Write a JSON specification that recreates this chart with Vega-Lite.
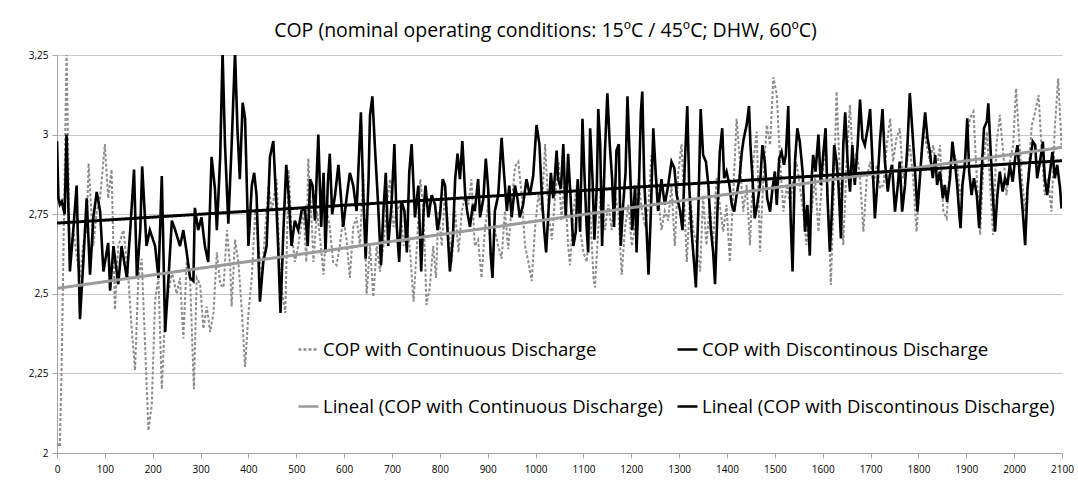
{
  "$schema": "https://vega.github.io/schema/vega-lite/v6.json",
  "width": 1005,
  "height": 398,
  "autosize": {"type": "none"},
  "padding": {"left": 57, "top": 55, "right": 16, "bottom": 36},
  "background": "white",
  "title": {
    "text": "COP (nominal operating conditions: 15ºC / 45ºC; DHW, 60ºC)",
    "font": "Open Sans",
    "fontSize": 19.5,
    "fontWeight": "normal",
    "color": "#000000",
    "anchor": "middle",
    "dx": -14,
    "offset": 9
  },
  "config": {
    "view": {"stroke": null},
    "axis": {"labelFont": "Open Sans", "labelFontSize": 10, "labelColor": "#000000", "domainColor": "#a6a6a6", "tickColor": "#a6a6a6", "tickSize": 5, "title": null}
  },
  "datasets": {
    "cont": [
      {"x":0,"y":2.03},{"x":6,"y":2.02},{"x":10,"y":2.3},{"x":20,"y":3.26},{"x":27,"y":2.6},{"x":34,"y":2.7},{"x":41,"y":2.62},{"x":48,"y":2.55},{"x":55,"y":2.66},{"x":62,"y":2.7},{"x":66,"y":2.91},{"x":76,"y":2.65},{"x":83,"y":2.76},{"x":90,"y":2.8},{"x":100,"y":2.97},{"x":107,"y":2.8},{"x":114,"y":2.89},{"x":121,"y":2.45},{"x":128,"y":2.65},{"x":139,"y":2.7},{"x":149,"y":2.55},{"x":156,"y":2.39},{"x":163,"y":2.26},{"x":170,"y":2.55},{"x":177,"y":2.61},{"x":184,"y":2.34},{"x":191,"y":2.07},{"x":198,"y":2.15},{"x":205,"y":2.48},{"x":212,"y":2.55},{"x":219,"y":2.2},{"x":226,"y":2.44},{"x":240,"y":2.57},{"x":250,"y":2.5},
      {"x":257,"y":2.55},{"x":264,"y":2.36},{"x":271,"y":2.6},{"x":278,"y":2.55},{"x":286,"y":2.2},{"x":292,"y":2.55},{"x":299,"y":2.53},{"x":306,"y":2.39},{"x":313,"y":2.46},{"x":320,"y":2.38},{"x":327,"y":2.44},{"x":334,"y":2.63},{"x":341,"y":2.53},{"x":348,"y":2.52},{"x":355,"y":2.7},{"x":362,"y":2.58},{"x":365,"y":2.46},{"x":372,"y":2.67},{"x":379,"y":2.6},{"x":386,"y":2.45},{"x":393,"y":2.27},{"x":400,"y":2.44},{"x":407,"y":2.55},{"x":414,"y":2.76},{"x":421,"y":2.65},{"x":428,"y":2.55},{"x":435,"y":2.7},{"x":442,"y":2.84},{"x":449,"y":2.76},{"x":459,"y":2.86},{"x":466,"y":2.55},{"x":477,"y":2.44},{"x":484,"y":2.89},{"x":490,"y":2.7},{"x":497,"y":2.6},{"x":504,"y":2.65},{"x":515,"y":2.76},
      {"x":521,"y":2.6},{"x":525,"y":2.925},{"x":531,"y":2.76},{"x":536,"y":2.6},{"x":543,"y":2.76},{"x":550,"y":2.67},{"x":557,"y":2.56},{"x":564,"y":2.76},{"x":570,"y":2.71},{"x":577,"y":2.6},{"x":584,"y":2.59},{"x":591,"y":2.65},{"x":598,"y":2.74},{"x":605,"y":2.67},{"x":612,"y":2.55},{"x":619,"y":2.71},{"x":626,"y":2.74},{"x":633,"y":2.65},{"x":640,"y":2.88},{"x":647,"y":2.5},{"x":654,"y":2.65},{"x":661,"y":2.49},{"x":668,"y":2.65},{"x":675,"y":2.57},{"x":682,"y":2.65},{"x":689,"y":2.78},{"x":696,"y":2.86},{"x":703,"y":2.71},{"x":710,"y":2.76},{"x":717,"y":2.78},{"x":724,"y":2.65},{"x":731,"y":2.72},{"x":738,"y":2.63},{"x":745,"y":2.475},{"x":752,"y":2.65},{"x":759,"y":2.86},{"x":766,"y":2.76},{"x":772,"y":2.465},{"x":779,"y":2.52},{"x":786,"y":2.65},
      {"x":792,"y":2.55},{"x":797,"y":2.76},{"x":804,"y":2.65},{"x":811,"y":2.83},{"x":818,"y":2.7},{"x":825,"y":2.6},{"x":832,"y":2.76},{"x":839,"y":2.63},{"x":846,"y":2.76},{"x":853,"y":2.81},{"x":860,"y":2.78},{"x":866,"y":2.86},{"x":873,"y":2.65},{"x":880,"y":2.67},{"x":887,"y":2.55},{"x":894,"y":2.7},{"x":901,"y":2.78},{"x":908,"y":2.57},{"x":915,"y":2.7},{"x":922,"y":2.65},{"x":929,"y":2.61},{"x":936,"y":2.76},{"x":943,"y":2.64},{"x":950,"y":2.78},{"x":957,"y":2.9},{"x":964,"y":2.915},{"x":971,"y":2.81},{"x":978,"y":2.65},{"x":985,"y":2.6},{"x":992,"y":2.54},{"x":999,"y":2.71},{"x":1006,"y":2.81},{"x":1013,"y":2.76},{"x":1020,"y":2.97},{"x":1027,"y":2.76},{"x":1034,"y":2.67},{"x":1041,"y":2.81},{"x":1048,"y":2.915},
      {"x":1054,"y":2.73},{"x":1061,"y":2.86},{"x":1068,"y":2.65},{"x":1072,"y":2.59},{"x":1079,"y":2.76},{"x":1086,"y":2.84},{"x":1093,"y":2.7},{"x":1100,"y":2.63},{"x":1107,"y":2.6},{"x":1114,"y":2.76},{"x":1121,"y":2.55},{"x":1124,"y":2.52},{"x":1131,"y":2.7},{"x":1138,"y":2.86},{"x":1145,"y":2.7},{"x":1152,"y":2.78},{"x":1159,"y":2.7},{"x":1166,"y":2.81},{"x":1173,"y":2.76},{"x":1180,"y":2.56},{"x":1187,"y":2.71},{"x":1194,"y":2.78},{"x":1201,"y":2.65},{"x":1208,"y":2.71},{"x":1215,"y":2.86},{"x":1222,"y":2.76},{"x":1229,"y":2.71},{"x":1236,"y":2.78},{"x":1242,"y":2.935},{"x":1249,"y":2.905},{"x":1256,"y":2.81},{"x":1263,"y":2.7},{"x":1270,"y":2.76},{"x":1277,"y":2.73},{"x":1284,"y":2.84},{"x":1291,"y":2.65},{"x":1298,"y":2.88},{"x":1305,"y":2.97},
      {"x":1309,"y":2.84},{"x":1316,"y":2.6},{"x":1323,"y":2.81},{"x":1330,"y":2.695},{"x":1337,"y":2.653},{"x":1344,"y":2.57},{"x":1350,"y":2.81},{"x":1357,"y":2.653},{"x":1364,"y":2.779},{"x":1371,"y":2.653},{"x":1378,"y":2.863},{"x":1385,"y":2.779},{"x":1392,"y":2.695},{"x":1399,"y":2.779},{"x":1406,"y":2.6},{"x":1413,"y":2.81},{"x":1420,"y":3.05},{"x":1427,"y":2.915},{"x":1434,"y":2.758},{"x":1441,"y":2.842},{"x":1448,"y":2.653},{"x":1455,"y":2.915},{"x":1462,"y":3.009},{"x":1469,"y":2.632},{"x":1476,"y":2.863},{"x":1483,"y":3.03},{"x":1490,"y":2.967},{"x":1497,"y":3.18},{"x":1504,"y":3.125},{"x":1511,"y":2.915},{"x":1518,"y":2.758},{"x":1525,"y":2.842},{"x":1532,"y":2.779},{"x":1539,"y":2.863},{"x":1545,"y":2.915},{"x":1552,"y":2.842},{"x":1559,"y":2.758},{"x":1566,"y":2.653},
      {"x":1570,"y":2.75},{"x":1577,"y":2.758},{"x":1584,"y":2.863},{"x":1591,"y":2.695},{"x":1598,"y":2.842},{"x":1605,"y":2.967},{"x":1612,"y":2.758},{"x":1617,"y":2.528},{"x":1624,"y":2.863},{"x":1629,"y":3.135},{"x":1636,"y":2.863},{"x":1643,"y":2.653},{"x":1650,"y":2.915},{"x":1657,"y":3.093},{"x":1664,"y":2.884},{"x":1671,"y":2.946},{"x":1678,"y":2.863},{"x":1685,"y":2.695},{"x":1692,"y":2.863},{"x":1699,"y":2.915},{"x":1706,"y":2.842},{"x":1713,"y":2.905},{"x":1720,"y":2.831},{"x":1727,"y":2.842},{"x":1734,"y":2.967},{"x":1741,"y":3.051},{"x":1747,"y":2.915},{"x":1754,"y":2.988},{"x":1761,"y":3.02},{"x":1768,"y":2.863},{"x":1775,"y":2.905},{"x":1782,"y":2.967},{"x":1789,"y":2.863},{"x":1796,"y":2.695},{"x":1803,"y":2.863},{"x":1810,"y":3.02},{"x":1817,"y":2.967},{"x":1824,"y":2.915},{"x":1831,"y":2.967},
      {"x":1838,"y":2.884},{"x":1845,"y":2.967},{"x":1852,"y":2.758},{"x":1859,"y":2.737},{"x":1866,"y":2.915},{"x":1873,"y":2.946},{"x":1880,"y":2.915},{"x":1887,"y":2.81},{"x":1894,"y":2.863},{"x":1901,"y":2.988},{"x":1908,"y":3.051},{"x":1915,"y":3.072},{"x":1922,"y":2.863},{"x":1929,"y":2.685},{"x":1936,"y":2.915},{"x":1943,"y":3.009},{"x":1949,"y":2.863},{"x":1956,"y":2.685},{"x":1963,"y":2.967},{"x":1970,"y":3.062},{"x":1977,"y":2.946},{"x":1984,"y":2.81},{"x":1991,"y":2.915},{"x":1998,"y":2.967},{"x":2004,"y":3.145},{"x":2009,"y":3.02},{"x":2016,"y":2.863},{"x":2023,"y":2.758},{"x":2030,"y":2.884},{"x":2037,"y":3.03},{"x":2044,"y":3.072},{"x":2051,"y":3.124},{"x":2057,"y":2.967},{"x":2064,"y":2.81},{"x":2071,"y":2.863},{"x":2078,"y":2.758},{"x":2085,"y":3.02},{"x":2092,"y":3.177},{"x":2099,"y":2.967}
    ],
    "disc": [
      {"x":0,"y":2.98},{"x":3,"y":2.8},{"x":6,"y":2.78},{"x":10,"y":2.79},{"x":16,"y":2.75},{"x":20,"y":3.0},{"x":27,"y":2.57},{"x":34,"y":2.7},{"x":41,"y":2.84},{"x":48,"y":2.42},{"x":55,"y":2.6},{"x":62,"y":2.8},{"x":69,"y":2.56},{"x":76,"y":2.74},{"x":83,"y":2.82},{"x":90,"y":2.76},{"x":97,"y":2.57},{"x":107,"y":2.66},{"x":111,"y":2.51},{"x":118,"y":2.65},{"x":128,"y":2.53},{"x":135,"y":2.65},{"x":146,"y":2.55},{"x":153,"y":2.7},{"x":161,"y":2.89},{"x":167,"y":2.55},{"x":174,"y":2.7},{"x":178,"y":2.9},{"x":187,"y":2.65},{"x":194,"y":2.7},{"x":205,"y":2.65},{"x":212,"y":2.55},{"x":219,"y":2.87},{"x":226,"y":2.38},{"x":233,"y":2.55},{"x":240,"y":2.73},{"x":247,"y":2.7},{"x":257,"y":2.65},
      {"x":264,"y":2.7},{"x":271,"y":2.63},{"x":278,"y":2.55},{"x":285,"y":2.54},{"x":288,"y":2.77},{"x":295,"y":2.7},{"x":302,"y":2.74},{"x":309,"y":2.65},{"x":316,"y":2.6},{"x":323,"y":2.93},{"x":330,"y":2.83},{"x":334,"y":2.7},{"x":341,"y":2.93},{"x":346,"y":3.26},{"x":351,"y":2.97},{"x":358,"y":2.72},{"x":365,"y":2.97},{"x":372,"y":3.26},{"x":377,"y":3.02},{"x":382,"y":2.86},{"x":388,"y":3.1},{"x":393,"y":3.05},{"x":400,"y":2.65},{"x":407,"y":2.84},{"x":412,"y":2.88},{"x":417,"y":2.81},{"x":424,"y":2.475},{"x":431,"y":2.6},{"x":438,"y":2.65},{"x":445,"y":2.93},{"x":452,"y":2.98},{"x":459,"y":2.76},{"x":462,"y":2.65},{"x":467,"y":2.44},{"x":473,"y":2.695},{"x":479,"y":2.905},{"x":484,"y":2.81},{"x":490,"y":2.65},{"x":497,"y":2.73},{"x":504,"y":2.7},{"x":511,"y":2.76},
      {"x":518,"y":2.77},{"x":524,"y":2.65},{"x":529,"y":2.86},{"x":534,"y":2.84},{"x":539,"y":2.73},{"x":546,"y":3.0},{"x":552,"y":2.71},{"x":557,"y":2.88},{"x":561,"y":2.63},{"x":566,"y":2.85},{"x":570,"y":2.94},{"x":575,"y":2.75},{"x":581,"y":2.81},{"x":588,"y":2.905},{"x":593,"y":2.81},{"x":598,"y":2.71},{"x":605,"y":2.8},{"x":612,"y":2.88},{"x":619,"y":2.84},{"x":626,"y":2.76},{"x":635,"y":3.07},{"x":640,"y":2.81},{"x":645,"y":2.61},{"x":651,"y":2.86},{"x":654,"y":3.06},{"x":659,"y":3.12},{"x":664,"y":2.97},{"x":671,"y":2.78},{"x":677,"y":2.59},{"x":682,"y":2.76},{"x":687,"y":2.88},{"x":692,"y":2.65},{"x":699,"y":2.78},{"x":705,"y":2.97},{"x":710,"y":2.71},{"x":715,"y":2.6},{"x":720,"y":2.79},{"x":726,"y":2.76},{"x":731,"y":2.63},{"x":736,"y":2.88},{"x":741,"y":2.97},{"x":748,"y":2.74},{"x":755,"y":2.84},{"x":761,"y":2.57},{"x":766,"y":2.76},{"x":770,"y":2.84},{"x":776,"y":2.74},{"x":783,"y":2.81},
      {"x":790,"y":2.78},{"x":795,"y":2.7},{"x":800,"y":2.74},{"x":806,"y":2.86},{"x":811,"y":2.84},{"x":816,"y":2.7},{"x":821,"y":2.57},{"x":827,"y":2.67},{"x":832,"y":2.86},{"x":837,"y":2.94},{"x":842,"y":2.86},{"x":847,"y":2.98},{"x":853,"y":2.81},{"x":857,"y":2.76},{"x":863,"y":2.71},{"x":869,"y":2.78},{"x":873,"y":2.76},{"x":880,"y":2.86},{"x":884,"y":2.74},{"x":891,"y":2.8},{"x":896,"y":2.925},{"x":901,"y":2.83},{"x":906,"y":2.63},{"x":910,"y":2.55},{"x":915,"y":2.76},{"x":922,"y":2.81},{"x":929,"y":2.99},{"x":934,"y":2.88},{"x":940,"y":2.76},{"x":945,"y":2.84},{"x":950,"y":2.74},{"x":957,"y":2.84},{"x":962,"y":2.8},{"x":967,"y":2.74},{"x":974,"y":2.78},{"x":981,"y":2.86},{"x":988,"y":2.81},{"x":995,"y":2.87},{"x":1002,"y":3.03},{"x":1008,"y":2.97},{"x":1013,"y":2.81},{"x":1018,"y":2.7},{"x":1022,"y":2.63},{"x":1027,"y":2.76},{"x":1032,"y":2.88},{"x":1037,"y":2.8},{"x":1044,"y":2.95},
      {"x":1047,"y":2.86},{"x":1053,"y":2.83},{"x":1058,"y":2.97},{"x":1063,"y":2.74},{"x":1068,"y":2.94},{"x":1074,"y":2.78},{"x":1079,"y":2.65},{"x":1084,"y":2.695},{"x":1088,"y":2.86},{"x":1093,"y":2.695},{"x":1098,"y":3.05},{"x":1102,"y":2.88},{"x":1107,"y":2.7},{"x":1110,"y":2.63},{"x":1114,"y":3.02},{"x":1119,"y":2.86},{"x":1123,"y":2.67},{"x":1128,"y":2.84},{"x":1131,"y":3.08},{"x":1135,"y":2.97},{"x":1139,"y":2.65},{"x":1145,"y":2.95},{"x":1150,"y":3.13},{"x":1155,"y":2.97},{"x":1160,"y":2.86},{"x":1164,"y":2.71},{"x":1169,"y":2.95},{"x":1174,"y":2.97},{"x":1178,"y":2.65},{"x":1183,"y":2.78},{"x":1188,"y":2.88},{"x":1192,"y":3.12},{"x":1197,"y":2.915},{"x":1202,"y":2.7},{"x":1208,"y":2.84},{"x":1211,"y":2.63},{"x":1216,"y":2.84},{"x":1220,"y":3.07},{"x":1223,"y":3.135},{"x":1227,"y":2.86},{"x":1232,"y":2.7},{"x":1236,"y":2.56},{"x":1241,"y":2.76},{"x":1246,"y":3.02},{"x":1251,"y":2.88},{"x":1256,"y":2.76},{"x":1263,"y":2.86},{"x":1270,"y":2.78},{"x":1277,"y":2.84},{"x":1284,"y":2.915},{"x":1290,"y":2.895},{"x":1295,"y":2.81},{"x":1302,"y":2.76},
      {"x":1307,"y":2.7},{"x":1312,"y":2.915},{"x":1317,"y":3.09},{"x":1321,"y":2.84},{"x":1326,"y":2.695},{"x":1331,"y":2.6},{"x":1335,"y":2.52},{"x":1340,"y":2.758},{"x":1345,"y":3.08},{"x":1350,"y":2.936},{"x":1356,"y":2.915},{"x":1361,"y":2.842},{"x":1366,"y":2.706},{"x":1371,"y":2.632},{"x":1375,"y":2.53},{"x":1380,"y":2.758},{"x":1385,"y":2.946},{"x":1390,"y":3.02},{"x":1394,"y":2.863},{"x":1399,"y":2.884},{"x":1405,"y":2.842},{"x":1410,"y":2.779},{"x":1415,"y":2.758},{"x":1420,"y":2.81},{"x":1426,"y":2.863},{"x":1431,"y":2.946},{"x":1435,"y":2.988},{"x":1441,"y":3.03},{"x":1446,"y":3.09},{"x":1449,"y":2.967},{"x":1454,"y":2.842},{"x":1458,"y":2.737},{"x":1463,"y":2.779},{"x":1469,"y":2.842},{"x":1474,"y":2.967},{"x":1479,"y":2.915},{"x":1484,"y":2.8},{"x":1490,"y":2.758},{"x":1495,"y":2.831},{"x":1500,"y":2.884},{"x":1504,"y":2.779},{"x":1509,"y":2.925},{"x":1514,"y":2.946},{"x":1519,"y":2.905},{"x":1523,"y":2.936},{"x":1528,"y":3.09},{"x":1533,"y":2.737},{"x":1537,"y":2.57},{"x":1542,"y":2.915},{"x":1547,"y":3.02},{"x":1552,"y":2.978},{"x":1558,"y":2.884},{"x":1563,"y":2.695},{"x":1568,"y":2.779},
      {"x":1573,"y":2.62},{"x":1577,"y":2.863},{"x":1580,"y":2.936},{"x":1585,"y":2.884},{"x":1591,"y":3.0},{"x":1596,"y":2.842},{"x":1601,"y":2.936},{"x":1606,"y":3.02},{"x":1610,"y":2.8},{"x":1615,"y":2.632},{"x":1619,"y":2.758},{"x":1624,"y":2.967},{"x":1629,"y":2.915},{"x":1633,"y":2.842},{"x":1638,"y":2.674},{"x":1643,"y":2.967},{"x":1647,"y":3.07},{"x":1652,"y":2.915},{"x":1657,"y":2.821},{"x":1662,"y":2.967},{"x":1667,"y":2.842},{"x":1673,"y":2.967},{"x":1678,"y":3.11},{"x":1683,"y":2.988},{"x":1688,"y":2.967},{"x":1694,"y":3.02},{"x":1699,"y":3.08},{"x":1704,"y":2.915},{"x":1709,"y":2.737},{"x":1715,"y":2.863},{"x":1720,"y":2.988},{"x":1725,"y":3.08},{"x":1730,"y":2.915},{"x":1736,"y":2.821},{"x":1741,"y":2.884},{"x":1745,"y":2.905},{"x":1751,"y":2.758},{"x":1757,"y":2.842},{"x":1761,"y":2.915},{"x":1766,"y":2.758},{"x":1772,"y":2.842},{"x":1777,"y":2.967},{"x":1782,"y":3.13},{"x":1787,"y":3.02},{"x":1793,"y":2.884},{"x":1798,"y":2.758},{"x":1803,"y":2.863},{"x":1808,"y":2.967},{"x":1814,"y":3.07},{"x":1819,"y":2.988},{"x":1824,"y":2.946},
      {"x":1830,"y":2.863},{"x":1835,"y":2.936},{"x":1839,"y":2.842},{"x":1845,"y":2.884},{"x":1851,"y":2.8},{"x":1855,"y":2.842},{"x":1860,"y":2.789},{"x":1866,"y":2.863},{"x":1871,"y":2.978},{"x":1876,"y":2.915},{"x":1881,"y":2.842},{"x":1885,"y":2.758},{"x":1888,"y":2.706},{"x":1892,"y":2.842},{"x":1897,"y":2.905},{"x":1902,"y":3.051},{"x":1906,"y":2.884},{"x":1911,"y":2.81},{"x":1916,"y":2.863},{"x":1922,"y":2.81},{"x":1927,"y":2.706},{"x":1932,"y":2.884},{"x":1937,"y":3.02},{"x":1943,"y":3.041},{"x":1946,"y":3.098},{"x":1951,"y":2.946},{"x":1955,"y":2.821},{"x":1960,"y":2.695},{"x":1965,"y":2.81},{"x":1970,"y":2.884},{"x":1976,"y":2.821},{"x":1981,"y":2.863},{"x":1986,"y":2.842},{"x":1991,"y":2.905},{"x":1997,"y":2.852},{"x":2002,"y":2.925},{"x":2007,"y":2.967},{"x":2012,"y":2.863},{"x":2018,"y":2.758},{"x":2023,"y":2.653},{"x":2028,"y":2.831},{"x":2033,"y":2.915},{"x":2039,"y":2.978},{"x":2044,"y":2.967},{"x":2048,"y":2.863},{"x":2054,"y":2.915},{"x":2060,"y":2.978},{"x":2064,"y":2.863},{"x":2069,"y":2.81},{"x":2075,"y":2.884},{"x":2080,"y":2.946},{"x":2085,"y":2.863},{"x":2090,"y":2.905},{"x":2096,"y":2.831},{"x":2099,"y":2.768}
    ],
    "trendC": [{"x":0,"y":2.517},{"x":2100,"y":2.96}],
    "trendD": [{"x":0,"y":2.722},{"x":2100,"y":2.918}]
  },
  "encoding": {
    "x": {
      "field": "x", "type": "quantitative",
      "scale": {"domain": [0, 2100], "nice": false, "zero": false},
      "axis": {"values": [0,100,200,300,400,500,600,700,800,900,1000,1100,1200,1300,1400,1500,1600,1700,1800,1900,2000,2100], "grid": false, "labelPadding": 6, "labelFlush": false, "format": "d"}
    },
    "y": {
      "field": "y", "type": "quantitative",
      "scale": {"domain": [2, 3.25], "nice": false, "zero": false},
      "axis": {"values": [2, 2.25, 2.5, 2.75, 3, 3.25], "grid": true, "gridColor": "#c8c8c8", "gridWidth": 1, "labelPadding": 4, "labelExpr": "replace(toString(datum.value), '.', ',')"}
    }
  },
  "layer": [
    {
      "data": {"name": "cont"},
      "mark": {"type": "line", "clip": true, "strokeWidth": 2},
      "encoding": {
        "color": {"datum": "COP with Continuous Discharge"},
        "strokeDash": {"datum": "COP with Continuous Discharge"}
      }
    },
    {
      "data": {"name": "disc"},
      "mark": {"type": "line", "clip": true, "strokeWidth": 2.6},
      "encoding": {
        "color": {"datum": "COP with Discontinous Discharge"},
        "strokeDash": {"datum": "COP with Discontinous Discharge"}
      }
    },
    {
      "data": {"name": "trendC"},
      "mark": {"type": "line", "clip": true, "strokeWidth": 3},
      "encoding": {
        "color": {"datum": "Lineal (COP with Continuous Discharge)"},
        "strokeDash": {"datum": "Lineal (COP with Continuous Discharge)"}
      }
    },
    {
      "data": {"name": "trendD"},
      "mark": {"type": "line", "clip": true, "strokeWidth": 3},
      "encoding": {
        "color": {
          "datum": "Lineal (COP with Discontinous Discharge)",
          "scale": {"domain": ["COP with Continuous Discharge", "COP with Discontinous Discharge", "Lineal (COP with Continuous Discharge)", "Lineal (COP with Discontinous Discharge)"], "range": ["#8c8c8c", "#000000", "#9a9a9a", "#000000"]},
          "legend": {"title": null, "orient": "none", "direction": "horizontal", "legendX": 240, "legendY": 283, "columns": 2, "columnPadding": 8, "rowPadding": 36, "symbolType": "stroke", "symbolSize": 400, "symbolStrokeWidth": 2.5, "labelFont": "Open Sans", "labelFontSize": 18.5, "labelColor": "#000000", "labelLimit": 600, "labelOffset": 3}
        },
        "strokeDash": {
          "datum": "Lineal (COP with Discontinous Discharge)",
          "scale": {"domain": ["COP with Continuous Discharge", "COP with Discontinous Discharge", "Lineal (COP with Continuous Discharge)", "Lineal (COP with Discontinous Discharge)"], "range": [[3, 2], [1, 0], [1, 0], [1, 0]]},
          "legend": {"title": null}
        }
      }
    }
  ]
}
